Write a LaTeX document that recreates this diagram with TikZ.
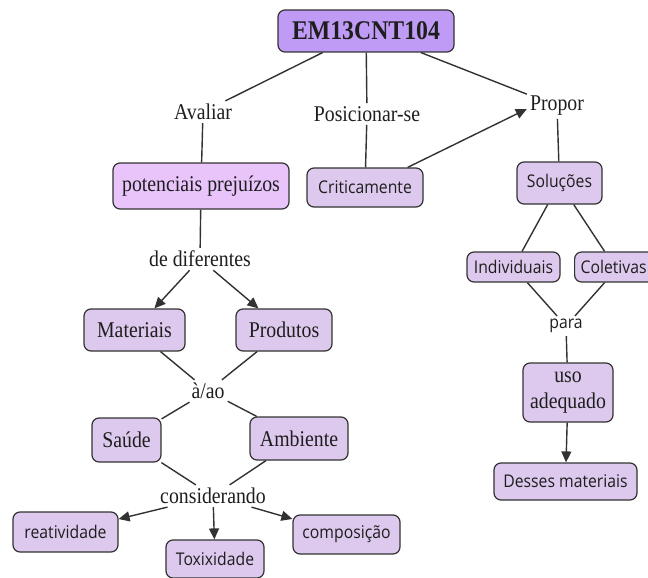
\documentclass[tikz,border=0pt]{standalone}
\usepackage{fontspec}
\setmainfont{Liberation Serif}[FakeStretch=0.88]
\newfontfamily\sansfnt{Open Sans}[FakeStretch=0.9]
\usetikzlibrary{arrows.meta}
\definecolor{topfill}{RGB}{192,155,245}
\definecolor{pinkfill}{RGB}{232,196,250}
\definecolor{boxfill}{RGB}{221,201,237}
\definecolor{edge}{RGB}{50,50,50}
\definecolor{ink}{RGB}{30,30,30}
\begin{document}
\begin{tikzpicture}[x=1pt,y=-1pt,
  concept/.style={draw=edge,line width=1.2pt,rounded corners=7pt,fill=boxfill,
    text=ink,inner sep=0pt,align=center},
  serifbox/.style={concept,font=\fontsize{22.5}{26}\selectfont},
  sansbox/.style={concept,font=\sansfnt\fontsize{17.5}{20}\selectfont},
  linkword/.style={text=ink,inner sep=3pt,font=\fontsize{22.5}{26}\selectfont},
  sanslink/.style={text=ink,inner sep=3pt,font=\sansfnt\fontsize{17.5}{20}\selectfont},
  conn/.style={draw=edge,line width=1.4pt},
  arr/.style={conn,-{Triangle[length=11pt,width=10pt]}}]
\useasboundingbox (0,0) rectangle (648,578);

% main concept
\node[concept,fill=topfill,minimum width=176pt,minimum height=42pt,
  font=\bfseries\fontsize{27}{30}\selectfont] (top) at (366,31) {EM13CNT104};

% linking words
\node[linkword] (avaliar) at (203,112) {Avaliar};
\node[linkword] (posic) at (367,114) {Posicionar-se};
\node[linkword] (propor) at (557,106) {Propor};
\node[linkword] (dedif) at (200,259) {de diferentes};
\node[linkword] (aao) at (208,391) {à/ao};
\node[linkword] (consid) at (213,496) {considerando};
\node[sanslink] (para) at (566,326) {para};

% concepts
\node[serifbox,fill=pinkfill,minimum width=176pt,minimum height=46pt] (pot) at (201,186) {potenciais prejuízos};
\node[sansbox,minimum width=116pt,minimum height=39pt] (crit) at (365,187.5) {Criticamente};
\node[sansbox,minimum width=85pt,minimum height=42pt] (sol) at (559.5,183) {Soluções};
\node[sansbox,minimum width=93pt,minimum height=30pt] (indiv) at (513.5,267) {Individuais};
% this box runs past the right edge; its text is set flush left
\node[sansbox,minimum height=30pt,inner xsep=6pt,text width=72pt,align=left,
  anchor=west] (colet) at (574,267) {Coletivas};
\node[serifbox,minimum width=90pt,minimum height=59pt] (uso) at (568,392.5) {uso\\adequado};
\node[sansbox,minimum width=143pt,minimum height=37pt] (desses) at (565.5,481.5) {Desses materiais};
\node[serifbox,minimum width=101pt,minimum height=42pt] (mat) at (134.5,330) {Materiais};
\node[serifbox,minimum width=96pt,minimum height=42pt] (prod) at (284,330) {Produtos};
\node[serifbox,minimum width=69pt,minimum height=44pt] (saude) at (126.5,440) {Saúde};
\node[serifbox,minimum width=98pt,minimum height=43pt] (amb) at (299,438.5) {Ambiente};
\node[sansbox,minimum width=105pt,minimum height=40pt] (reat) at (65.5,532) {reatividade};
\node[sansbox,minimum width=98pt,minimum height=38pt] (toxi) at (215,559) {Toxixidade};
\node[sansbox,minimum width=107pt,minimum height=39pt] (comp) at (346.5,534.5) {composição};

% connectors
\draw[conn] (top) -- (avaliar);
\draw[conn] (top) -- (posic);
\draw[conn] (top) -- (propor);
\draw[conn] (avaliar) -- (pot);
\draw[conn] (posic) -- (crit);
\draw[arr] ([xshift=-16pt]crit.north east) -- ([yshift=-3pt]propor.west);
\draw[conn] (propor) -- (sol);
\draw[conn] (sol) -- (indiv);
\draw[conn] (sol) -- ([xshift=-12pt]colet.north);
\draw[conn] (indiv) -- (para);
\draw[conn] ([xshift=-12pt]colet.south) -- (para);
\draw[conn] (para) -- (uso);
\draw[arr] (uso) -- (desses);
\draw[conn] (pot) -- (dedif);
\draw[arr] (dedif) -- (mat);
\draw[arr] (dedif) -- (prod);
\draw[conn] (mat) -- (aao);
\draw[conn] (prod) -- (aao);
\draw[conn] (aao) -- (saude);
\draw[conn] (aao) -- (amb);
\draw[conn] (saude) -- (consid);
\draw[conn] (amb) -- (consid);
\draw[arr] (consid) -- (reat);
\draw[arr] (consid) -- (toxi);
\draw[arr] (consid) -- (comp);
\end{tikzpicture}
\end{document}
